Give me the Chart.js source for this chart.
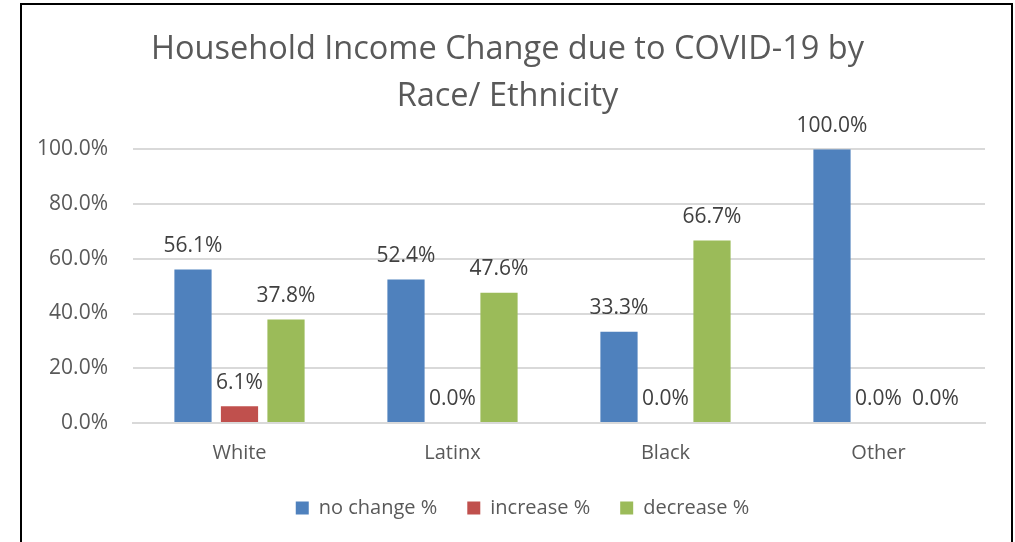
<!DOCTYPE html>
<html>
<head>
<meta charset="utf-8">
<script src="https://cdn.jsdelivr.net/npm/chart.js@4.4.0/dist/chart.umd.min.js"></script>
<style>
  html, body { margin: 0; padding: 0; background: #fff; }
  #wrap { position: relative; width: 1015px; height: 542px; overflow: hidden; }
  #frame {
    position: absolute; left: 20px; top: 3px; width: 989px; height: 600px;
    border: 2px solid #000; pointer-events: none;
  }
</style>
</head>
<body>
<div id="wrap">
  <canvas id="chart" width="1015" height="542"></canvas>
  <div id="frame"></div>
</div>
<script>
// данные с картинки
const categories = ['White', 'Latinx', 'Black', 'Other'];
const noChange = [56.1, 52.4, 33.3, 100.0];
const increase = [6.1, 0.0, 0.0, 0.0];
const decrease = [37.8, 47.6, 66.7, 0.0];
const yTicks = [0, 20, 40, 60, 80, 100];

const FONT = 'Open Sans';

// подписи значений над столбцами (если налезают на соседнюю — сдвигаем вправо, как Excel)
const barLabels = {
  id: 'barLabels',
  afterDatasetsDraw(chart) {
    const ctx = chart.ctx;
    ctx.save();
    ctx.font = '21px "' + FONT + '"';
    ctx.fillStyle = '#404040';
    ctx.textAlign = 'center';
    ctx.textBaseline = 'bottom';
    const n = chart.data.labels.length;
    for (let j = 0; j < n; j++) {
      let prev = null; // {right, y}
      chart.data.datasets.forEach((ds, i) => {
        const bar = chart.getDatasetMeta(i).data[j];
        const txt = ds.data[j].toFixed(1) + '%';
        const w = ctx.measureText(txt).width;
        let x = bar.x;
        const y = bar.y - 13;
        if (prev && Math.abs(prev.y - y) < 20 && x - w / 2 < prev.right + 10) {
          x = prev.right + 10 + w / 2;
        }
        ctx.fillText(txt, x, y);
        prev = { right: x + w / 2, y };
      });
    }
    ctx.restore();
  },
};

// легенда в оригинале чуть правее центра
const legendShift = {
  id: 'legendShift',
  afterLayout(chart) {
    if (!chart.legend) return;
    chart.legend.left += 15;
    chart.legend.right += 15;
  },
};

new Chart(document.getElementById('chart'), {
  type: 'bar',
  data: {
    labels: categories,
    datasets: [
      { label: 'no change %', data: noChange, backgroundColor: '#4F81BD' },
      { label: 'increase %',  data: increase, backgroundColor: '#C0504D' },
      { label: 'decrease %',  data: decrease, backgroundColor: '#9BBB59' },
    ],
  },
  options: {
    responsive: false,
    animation: false,
    categoryPercentage: 0.655,
    barPercentage: 0.8,
    layout: { padding: { left: 30, right: 30, top: 0, bottom: 14 } },
    plugins: {
      title: {
        display: true,
        text: ['Household Income Change due to COVID-19 by', 'Race/ Ethnicity'],
        color: '#595959',
        font: { family: FONT, size: 32.5, weight: 'normal', lineHeight: 1.45 },
        padding: { top: 26, bottom: 29 },
      },
      legend: {
        position: 'bottom',
        labels: {
          color: '#595959',
          font: { family: FONT, size: 20 },
          boxWidth: 13, boxHeight: 13,
          padding: 30,
        },
      },
      tooltip: { enabled: false },
    },
    scales: {
      x: {
        grid: { display: false },
        border: { color: '#d9d9d9', width: 2 },
        ticks: { color: '#595959', font: { family: FONT, size: 20 }, padding: 10 },
        afterFit: s => { s.height = 45; },
      },
      y: {
        min: 0, max: 100,
        afterBuildTicks: s => { s.ticks = yTicks.map(v => ({ value: v })); },
        grid: { color: '#d9d9d9', lineWidth: 2, drawTicks: false },
        border: { display: false },
        ticks: {
          color: '#595959',
          font: { family: FONT, size: 21 },
          padding: 25,
          callback: v => v.toFixed(1) + '%',
        },
        afterFit: s => { s.width = 103; },
      },
    },
  },
  plugins: [barLabels, legendShift],
});
</script>
</body>
</html>
